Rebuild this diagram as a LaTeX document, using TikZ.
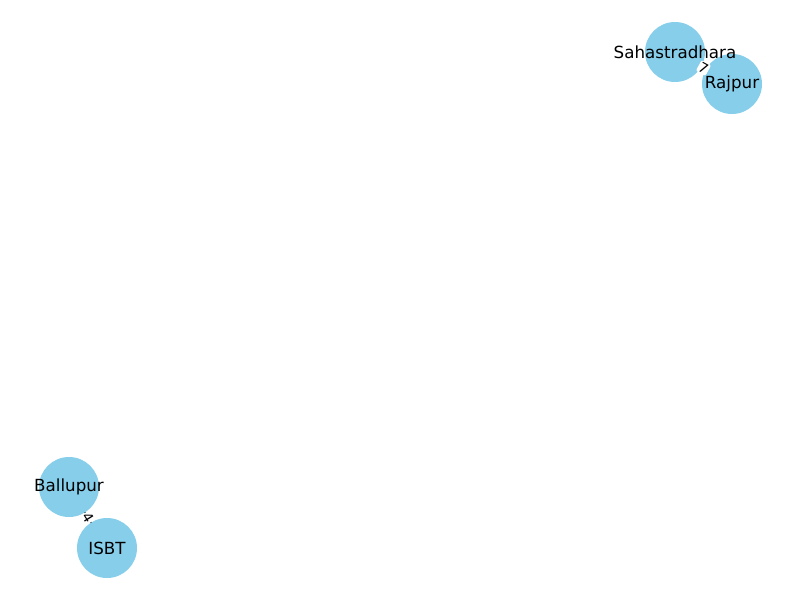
\documentclass[tikz,border=0pt]{standalone}
\usepackage{fontspec}
\setmainfont{DejaVu Sans}
\usetikzlibrary{calc}
\definecolor{skyblue}{HTML}{87CEEB}
\tikzset{
  stop/.style={circle, fill=skyblue, minimum size=60pt, inner sep=0pt, font=\fontsize{16.7}{20}\selectfont},
  edgelabel/.style={fill=white, inner sep=1pt, rounded corners=2pt, font=\fontsize{13.9}{16}\selectfont},
  link/.style={draw=black, line width=1.4pt}
}
\begin{document}
\begin{tikzpicture}[x=1pt,y=-1pt]
\useasboundingbox (0,0) rectangle (800,600);
\coordinate (sa) at (675,52);
\coordinate (ra) at (732,84);
\coordinate (ba) at (69,487);
\coordinate (is) at (107,548);
\draw[link] (sa) -- (ra);
\draw[link] (ba) -- (is);
\node[stop] (S) at (sa) {};
\node[stop] (R) at (ra) {};
\node[stop] (B) at (ba) {};
\node[stop] (I) at (is) {};
\node[font=\fontsize{16.7}{20}\selectfont] at (S) {Sahastradhara};
\node[font=\fontsize{16.7}{20}\selectfont] at (R) {Rajpur};
\node[font=\fontsize{16.7}{20}\selectfont] at (B) {Ballupur};
\node[font=\fontsize{16.7}{20}\selectfont] at (I) {ISBT};
\node[edgelabel, rotate=-29] (l1) at ($(S)!0.5!(R)$) {7};
\node[edgelabel, rotate=-58] (l2) at ($(B)!0.5!(I)$) {4};
\end{tikzpicture}
\end{document}
